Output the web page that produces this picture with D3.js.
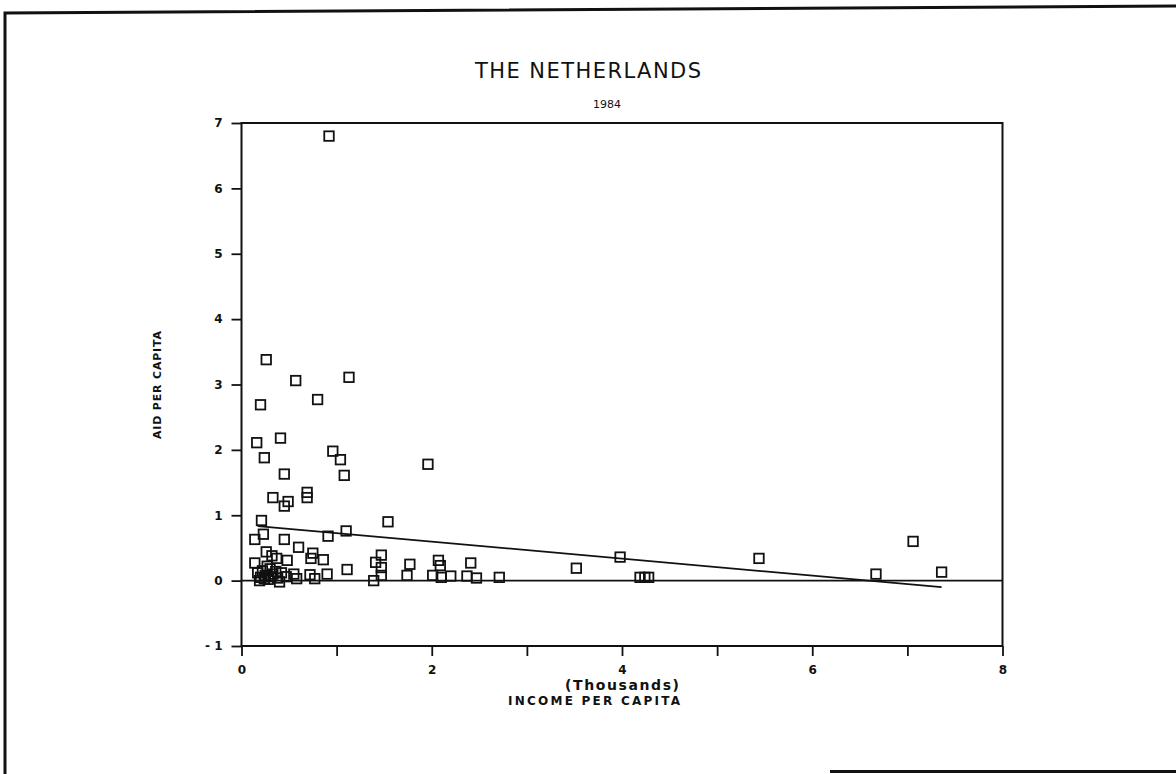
<!DOCTYPE html>
<html>
<head>
<meta charset="utf-8">
<script src="https://cdn.jsdelivr.net/npm/d3@7"></script>
<style>
  html, body { margin: 0; padding: 0; background: #fff; }
  svg { display: block; }
  text { font-family: "DejaVu Sans", "Liberation Sans", sans-serif; fill: #111; }
</style>
</head>
<body>
<svg id="chart" width="1176" height="774"></svg>
<script>
// Income per capita (thousands) and aid per capita for each recipient country
const income = [
  0.92, 0.26, 0.57, 1.13, 0.20, 0.80, 0.16, 0.41, 0.24, 0.96,
  1.04, 0.45, 1.08, 1.96, 0.33, 0.49, 0.45, 0.69, 0.69, 0.21,
  0.23, 0.14, 0.45, 0.60, 0.91, 1.10, 1.54, 1.11, 0.26, 0.32,
  0.37, 0.48, 0.14, 0.75, 0.73, 0.86, 1.47, 1.41, 1.47, 1.77,
  1.39, 1.47, 1.74, 0.58, 0.72, 0.77, 0.90, 0.40, 2.07, 2.09,
  2.01, 2.10, 2.20, 2.41, 2.37, 2.47, 2.71, 3.52, 3.98, 4.19,
  4.24, 4.28, 5.44, 7.06, 6.67, 7.36,
  0.17, 0.20, 0.22, 0.25, 0.28, 0.30, 0.33, 0.36, 0.19, 0.27,
  0.42, 0.38, 0.47, 0.24, 0.31, 0.55
];
const aid = [
  6.80, 3.38, 3.06, 3.11, 2.69, 2.77, 2.11, 2.18, 1.88, 1.98,
  1.85, 1.63, 1.61, 1.78, 1.27, 1.21, 1.14, 1.35, 1.27, 0.92,
  0.71, 0.63, 0.63, 0.51, 0.68, 0.76, 0.90, 0.17, 0.44, 0.38,
  0.34, 0.31, 0.27, 0.42, 0.34, 0.32, 0.39, 0.28, 0.20, 0.25,
  0.00, 0.08, 0.08, 0.03, 0.09, 0.03, 0.10, -0.02, 0.31, 0.23,
  0.08, 0.05, 0.07, 0.27, 0.07, 0.04, 0.05, 0.19, 0.36, 0.05,
  0.05, 0.05, 0.34, 0.60, 0.10, 0.13,
  0.12, 0.05, 0.15, 0.08, 0.02, 0.18, 0.10, 0.14, 0.00, 0.22,
  0.12, 0.04, 0.06, 0.03, 0.06, 0.10
];

// Fitted trend line end points (income, aid)
const fitIncome = [0.17, 7.36];
const fitAid = [0.835, -0.10];

// Axis ticks
const xTicks = [0, 1, 2, 3, 4, 5, 6, 7, 8];
const xTickLabels = ["0", "", "2", "", "4", "", "6", "", "8"];
const yTicks = [-1, 0, 1, 2, 3, 4, 5, 6, 7];

const svg = d3.select("#chart");

// Page border
svg.append("path")
  .attr("d", "M1176,6 L5,13 L5,774")
  .attr("fill", "none").attr("stroke", "#111").attr("stroke-width", 3);
svg.append("line")
  .attr("x1", 830).attr("x2", 1176).attr("y1", 771.5).attr("y2", 771.5)
  .attr("stroke", "#111").attr("stroke-width", 3);

const plotLeft = 241.5, plotRight = 1002.5, plotTop = 123, plotBottom = 646;
const x = d3.scaleLinear().domain([0, 8]).range([plotLeft, plotRight]);
const y = d3.scaleLinear().domain([-1, 7]).range([plotBottom, plotTop]);

// Plot frame
svg.append("rect")
  .attr("x", plotLeft).attr("y", plotTop)
  .attr("width", plotRight - plotLeft).attr("height", plotBottom - plotTop)
  .attr("fill", "none").attr("stroke", "#111").attr("stroke-width", 2);

// X axis
const xAxis = d3.axisBottom(x).tickValues(xTicks)
  .tickFormat((d, i) => xTickLabels[i]).tickSize(10).tickPadding(9);
const gx = svg.append("g").attr("transform", `translate(0,${plotBottom})`).call(xAxis);
gx.select(".domain").remove();
gx.selectAll("line").attr("stroke", "#111").attr("stroke-width", 1.8);
gx.selectAll("text").attr("font-size", 12).attr("font-weight", "bold");

// Y axis
const yAxis = d3.axisLeft(y).tickValues(yTicks).tickFormat(d3.format("d"))
  .tickSize(10).tickPadding(9);
const gy = svg.append("g").attr("transform", `translate(${plotLeft},0)`).call(yAxis);
gy.select(".domain").remove();
gy.selectAll("line").attr("stroke", "#111").attr("stroke-width", 1.8);
gy.selectAll("text").attr("font-size", 12).attr("font-weight", "bold")
  .text(d => d < 0 ? "- " + Math.abs(d) : d);

// Zero reference line
svg.append("line")
  .attr("x1", x(0)).attr("x2", x(8)).attr("y1", y(0)).attr("y2", y(0))
  .attr("stroke", "#111").attr("stroke-width", 1.8);

// Trend line
svg.append("line")
  .attr("x1", x(fitIncome[0])).attr("y1", y(fitAid[0]))
  .attr("x2", x(fitIncome[1])).attr("y2", y(fitAid[1]))
  .attr("stroke", "#111").attr("stroke-width", 1.8);

// Square markers
const s = 9.5;
svg.append("g").selectAll("rect")
  .data(income.map((v, i) => [v, aid[i]]))
  .join("rect")
  .attr("x", d => x(d[0]) - s / 2)
  .attr("y", d => y(d[1]) - s / 2)
  .attr("width", s).attr("height", s)
  .attr("fill", "none").attr("stroke", "#111").attr("stroke-width", 1.8);

// Titles
svg.append("text").attr("x", 588).attr("y", 78).attr("text-anchor", "middle")
  .attr("font-size", 21).attr("font-family", "Liberation Sans, sans-serif")
  .attr("textLength", 226).attr("lengthAdjust", "spacing")
  .text("THE NETHERLANDS");
svg.append("text").attr("x", 607).attr("y", 108).attr("text-anchor", "middle")
  .attr("font-size", 11).text("1984");

// Axis titles
svg.append("text").attr("x", 622).attr("y", 690).attr("text-anchor", "middle")
  .attr("font-size", 14).attr("font-weight", "bold")
  .attr("textLength", 114).attr("lengthAdjust", "spacing")
  .text("(Thousands)");
svg.append("text").attr("x", 594).attr("y", 705).attr("text-anchor", "middle")
  .attr("font-size", 12).attr("font-weight", "bold")
  .attr("textLength", 172).attr("lengthAdjust", "spacing")
  .text("INCOME PER CAPITA");
svg.append("text")
  .attr("transform", "translate(161,385) rotate(-90)")
  .attr("text-anchor", "middle").attr("font-size", 11).attr("font-weight", "bold")
  .attr("textLength", 108).attr("lengthAdjust", "spacing")
  .text("AID PER CAPITA");
</script>
</body>
</html>
